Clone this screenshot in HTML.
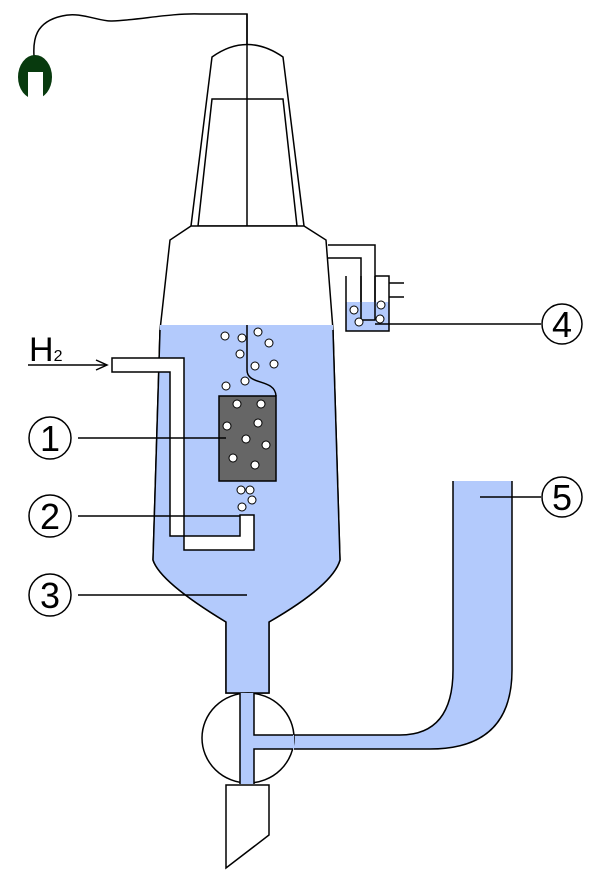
<!DOCTYPE html>
<html><head><style>html,body{margin:0;padding:0;background:#fff}svg{display:block}</style></head>
<body>
<svg width="600" height="887" viewBox="0 0 600 887" xmlns="http://www.w3.org/2000/svg" font-family="Liberation Sans, sans-serif">
<g stroke="#000" stroke-width="1.5" fill="none">
<path d="M34,56 C33,40 35,22 62,16 C80,11 100,22 112,21 C140,20 170,13 200,14 L247,14 L247,370 C247,386 275,378 276,396" />
<path d="M191,226 L212,57 Q247,32 283,57 L304,226" fill="#fff"/>
<path d="M198,226 L212,99 L283,99 L297,226 Z" fill="#fff"/>
<line x1="247" y1="14" x2="247" y2="370"/>
<path d="M191,226 L170,240 L160,330 L153,560 Q160,582 226,622 L226,693 L269,693 L269,622 Q333,585 340,560 L333,330 L326,240 L304,226 Z" fill="#fff"/>
<path d="M160,325 L333,325 L340,560 Q333,585 269,622 L269,693 L226,693 L226,622 Q160,582 153,560 Z" fill="#b3cafc" stroke="none"/>
<path d="M160,330 L153,560 Q160,582 226,622 L226,693 L269,693 L269,622 Q333,585 340,560 L333,330"/>
<line x1="247" y1="325" x2="247" y2="370"/>
<path d="M247,370 C247,386 275,378 276,396"/>
<path d="M328,245 L375,245 L375,322 L361,322 L361,258 L328,258" fill="#fff"/>
<rect x="346" y="302" width="43" height="29" fill="#b3cafc" stroke="none"/>
<path d="M346,276 L346,331 L389,331 L389,276 L375,276"/>
<path d="M361,302 L361,320 L375,320 L375,302" fill="#b3cafc" stroke="none"/>
<path d="M361,276 L361,320 L375,320 L375,276" fill="none"/>
<path d="M389,283 L404,283 M389,297 L404,297"/>
<path d="M112,358 L184,358 L184,550 L254,550 L254,515 L240,515 L240,536 L170,536 L170,372 L112,372 Z" fill="#fff"/>
<line x1="28" y1="365" x2="107" y2="365"/>
<path d="M96,360 L107,365 L96,370"/>
<rect x="219" y="396" width="57" height="85" fill="#666"/>
<!-- U tube -->
<path d="M294,735 L400,735 Q453,735 453,670 L453,481 L512,481 L512,670 Q512,749 430,749 L294,749 Z" fill="#b3cafc" stroke="none"/>
<path d="M294,735 L400,735 Q453,735 453,670 L453,481 M512,481 L512,670 Q512,749 430,749 L294,749"/>
<ellipse cx="248" cy="738" rx="46" ry="45" fill="#fff"/>
<path d="M240,693 L240,784 L254,784 L254,749 L294,749 L294,735 L254,735 L254,693 Z" fill="#b3cafc" stroke="none"/>
<path d="M240,693 L240,784 M254,693 L254,735 L293,735 M254,784 L254,749 L293,749"/>
<path d="M226,785 L269,785 L269,835 L226,868 Z" fill="#fff"/>
<line x1="375" y1="324" x2="541" y2="324"/>
<line x1="78" y1="438" x2="226" y2="438"/>
<line x1="78" y1="516" x2="240" y2="516"/>
<line x1="78" y1="595" x2="247" y2="595"/>
<line x1="480" y1="497" x2="541" y2="497"/>
<circle cx="50" cy="438" r="21"/><circle cx="50" cy="516" r="21"/><circle cx="50" cy="595" r="21"/>
<circle cx="562" cy="324" r="20"/><circle cx="562" cy="497" r="20"/>
</g>
<ellipse cx="35" cy="77" rx="17" ry="22" fill="#083a0e"/>
<rect x="28" y="72" width="15" height="28" fill="#fff"/>
<rect x="26" y="98" width="20" height="4" fill="#fff"/>
<g fill="#fff" stroke="#000" stroke-width="1">
<circle cx="225" cy="336" r="4"/><circle cx="242" cy="338" r="4"/><circle cx="258" cy="332" r="4"/><circle cx="269" cy="343" r="4"/>
<circle cx="240" cy="354" r="4"/><circle cx="274" cy="364" r="4"/><circle cx="255" cy="366" r="4"/><circle cx="245" cy="381" r="4"/><circle cx="226" cy="386" r="4"/>
<circle cx="237" cy="404" r="4"/><circle cx="261" cy="404" r="4"/><circle cx="227" cy="426" r="4"/><circle cx="258" cy="423" r="4"/>
<circle cx="246" cy="439" r="4"/><circle cx="266" cy="445" r="4"/><circle cx="233" cy="458" r="4"/><circle cx="255" cy="465" r="4"/>
<circle cx="241" cy="490" r="4"/><circle cx="250" cy="490" r="4"/><circle cx="252" cy="500" r="4"/><circle cx="242" cy="507" r="4"/>
<circle cx="354" cy="310" r="4"/><circle cx="359" cy="322" r="4"/><circle cx="381" cy="305" r="4"/><circle cx="380" cy="319" r="4"/>
</g>
<text x="29" y="361" font-size="34">H<tspan font-size="16" dy="0">2</tspan></text>
<g font-size="36" text-anchor="middle">
<text x="50" y="451">1</text><text x="50" y="529">2</text><text x="50" y="608">3</text>
<text x="562" y="337">4</text><text x="562" y="510">5</text>
</g>
</svg>
</body></html>
